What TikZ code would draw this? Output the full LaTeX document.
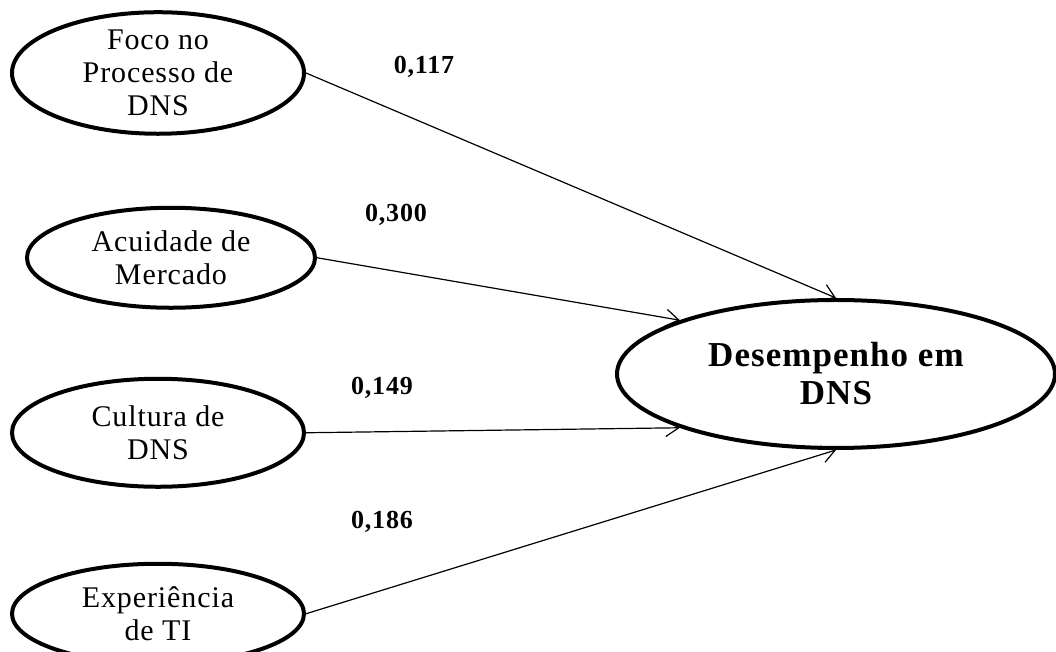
\documentclass[tikz,border=0pt]{standalone}
\usepackage{fontspec}
\setmainfont{Liberation Serif}[LetterSpace=3]
\usetikzlibrary{shapes.geometric, arrows.meta, positioning}

\begin{document}
\begin{tikzpicture}[x=1pt, y=1pt, every node/.style={align=center}]
\tikzstyle{latent} = [ellipse, draw=black, line width=4pt, inner sep=0pt, minimum width=292pt, font=\fontsize{30}{33}\selectfont]
\tikzstyle{target} = [ellipse, draw=black, line width=4pt, inner sep=0pt, minimum width=438pt, minimum height=148pt, font=\bfseries\fontsize{35}{38}\selectfont]
\tikzstyle{coef} = [font=\bfseries\fontsize{26}{30}\selectfont]
\tikzstyle{arrow} = [line width=1.2pt, -{Straight Barb[length=13pt, width=17pt]}]

\useasboundingbox (0,0) rectangle (1056,652);

% Left column (top to bottom)
\node (foco) [latent, minimum height=111pt] at (158,579) {Foco no\\Processo de\\DNS};
\node (acuidade) [latent, minimum width=288pt, minimum height=100pt, below=70pt of foco, xshift=13pt] {Acuidade de\\Mercado};
\node (cultura) [latent, minimum height=108pt, below=67pt of acuidade, xshift=-13pt] {Cultura de\\DNS};
\node (experiencia) [latent, minimum height=100pt, below=75pt of cultura, yshift=2pt] {Experiência\\de TI};

% Dependent construct
\node (desempenho) [target] at (836,278) {Desempenho em\\DNS};

% Path coefficients
\node (c117) [coef] at (424,585) {0,117};
\node (c300) [coef] at (396,437) {0,300};
\node (c149) [coef] at (382,264) {0,149};
\node (c186) [coef] at (382,130) {0,186};

% Paths
\draw [arrow] (foco.east) -- (desempenho.north);
\draw [arrow] (acuidade.east) -- (desempenho.161.6);
\draw [arrow] (cultura.east) -- (desempenho.199.4);
\draw [arrow] (experiencia.east) -- (desempenho.south);

\end{tikzpicture}
\end{document}
